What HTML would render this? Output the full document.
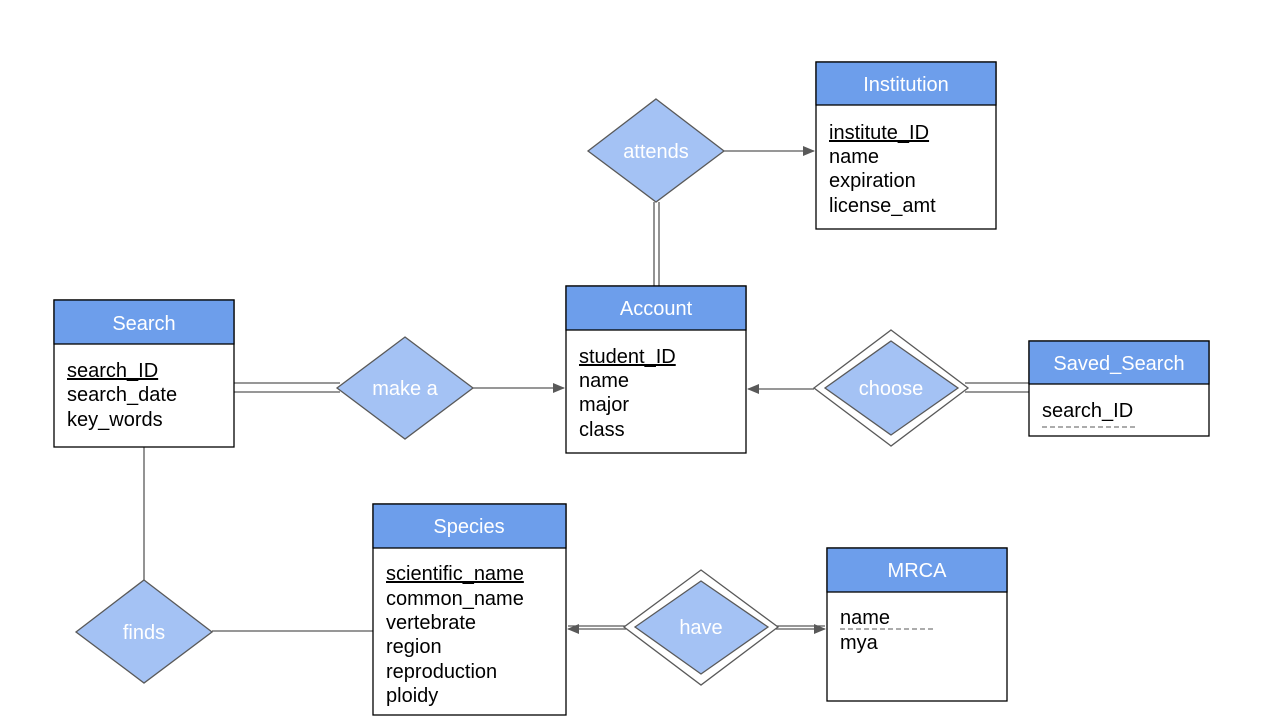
<!DOCTYPE html>
<html><head><meta charset="utf-8"><style>
html,body{margin:0;padding:0;background:#fff;}
svg{display:block;}
text{font-family:"Liberation Sans",sans-serif;}
.h{fill:#fff;font-size:20px;text-anchor:middle;}
.a{fill:#000;font-size:20px;}
.d{fill:#a4c2f4;stroke:#595959;stroke-width:1.3;}
.o{fill:#fff;stroke:#595959;stroke-width:1.3;}
.l{stroke:#595959;stroke-width:1.3;fill:none;}
</style></head><body>
<svg width="1273" height="727" viewBox="0 0 1273 727" xmlns="http://www.w3.org/2000/svg">
<defs><marker id="ar" markerWidth="12" markerHeight="10" refX="11" refY="5" orient="auto" markerUnits="userSpaceOnUse"><path d="M0,0 L12,5 L0,10 z" fill="#595959"/></marker></defs>
<line class="l" x1="724" y1="151" x2="814" y2="151" marker-end="url(#ar)"/>
<line class="l" x1="654" y1="202" x2="654" y2="286"/><line class="l" x1="659" y1="202" x2="659" y2="286"/>
<line class="l" x1="234" y1="383" x2="340" y2="383"/><line class="l" x1="234" y1="392" x2="340" y2="392"/>
<line class="l" x1="473" y1="388" x2="564" y2="388" marker-end="url(#ar)"/>
<line class="l" x1="814" y1="389" x2="748" y2="389" marker-end="url(#ar)"/>
<line class="l" x1="965" y1="383" x2="1029" y2="383"/><line class="l" x1="965" y1="392" x2="1029" y2="392"/>
<line class="l" x1="144" y1="447" x2="144" y2="580"/>
<line class="l" x1="212" y1="631" x2="373" y2="631"/>
<line class="l" x1="626" y1="626" x2="568" y2="626"/><line class="l" x1="626" y1="629" x2="568" y2="629" marker-end="url(#ar)"/>
<line class="l" x1="776" y1="626" x2="825" y2="626"/><line class="l" x1="776" y1="629" x2="825" y2="629" marker-end="url(#ar)"/>
<polygon class="d" points="656,99 724,151 656,202 588,151"/><text class="h" x="656" y="158">attends</text>
<polygon class="d" points="405,337 473,388 405,439 337,388"/><text class="h" x="405" y="395">make a</text>
<polygon class="o" points="891,330 968,388 891,446 814,388"/><polygon class="d" points="891,341 958,388 891,435 825,388"/><text class="h" x="891" y="395">choose</text>
<polygon class="d" points="144,580 212,632 144,683 76,632"/><text class="h" x="144" y="639">finds</text>
<polygon class="o" points="701,570 778,627 701,685 624,627"/><polygon class="d" points="701,581 768,627 701,674 635,627"/><text class="h" x="701" y="634">have</text>
<g>
<rect x="816" y="62" width="180" height="167" fill="#fff" stroke="#000" stroke-width="1.3"/>
<rect x="816" y="62" width="180" height="43" fill="#6d9eeb" stroke="#000" stroke-width="1.3"/>
<text class="h" x="906" y="91">Institution</text>
<text class="a" x="829" y="139" text-decoration="underline">institute_ID</text>
<text class="a" x="829" y="163">name</text><text class="a" x="829" y="187">expiration</text><text class="a" x="829" y="212">license_amt</text>
</g>
<g>
<rect x="566" y="286" width="180" height="167" fill="#fff" stroke="#000" stroke-width="1.3"/>
<rect x="566" y="286" width="180" height="44" fill="#6d9eeb" stroke="#000" stroke-width="1.3"/>
<text class="h" x="656" y="315">Account</text>
<text class="a" x="579" y="363" text-decoration="underline">student_ID</text>
<text class="a" x="579" y="387">name</text><text class="a" x="579" y="411">major</text><text class="a" x="579" y="436">class</text>
</g>
<g>
<rect x="54" y="300" width="180" height="147" fill="#fff" stroke="#000" stroke-width="1.3"/>
<rect x="54" y="300" width="180" height="44" fill="#6d9eeb" stroke="#000" stroke-width="1.3"/>
<text class="h" x="144" y="330">Search</text>
<text class="a" x="67" y="377" text-decoration="underline">search_ID</text>
<text class="a" x="67" y="401">search_date</text><text class="a" x="67" y="426">key_words</text>
</g>
<g>
<rect x="1029" y="341" width="180" height="95" fill="#fff" stroke="#000" stroke-width="1.3"/>
<rect x="1029" y="341" width="180" height="43" fill="#6d9eeb" stroke="#000" stroke-width="1.3"/>
<text class="h" x="1119" y="370">Saved_Search</text>
<text class="a" x="1042" y="417">search_ID</text>
<line x1="1042" y1="427" x2="1136" y2="427" stroke="#595959" stroke-width="1" stroke-dasharray="5,3"/>
</g>
<g>
<rect x="373" y="504" width="193" height="211" fill="#fff" stroke="#000" stroke-width="1.3"/>
<rect x="373" y="504" width="193" height="44" fill="#6d9eeb" stroke="#000" stroke-width="1.3"/>
<text class="h" x="469" y="533">Species</text>
<text class="a" x="386" y="580" text-decoration="underline">scientific_name</text>
<text class="a" x="386" y="605">common_name</text><text class="a" x="386" y="629">vertebrate</text><text class="a" x="386" y="653">region</text><text class="a" x="386" y="678">reproduction</text><text class="a" x="386" y="702">ploidy</text>
</g>
<g>
<rect x="827" y="548" width="180" height="153" fill="#fff" stroke="#000" stroke-width="1.3"/>
<rect x="827" y="548" width="180" height="44" fill="#6d9eeb" stroke="#000" stroke-width="1.3"/>
<text class="h" x="917" y="577">MRCA</text>
<text class="a" x="840" y="624">name</text>
<line x1="840" y1="629" x2="934" y2="629" stroke="#595959" stroke-width="1" stroke-dasharray="5,3"/>
<text class="a" x="840" y="649">mya</text>
</g>
</svg>
</body></html>
